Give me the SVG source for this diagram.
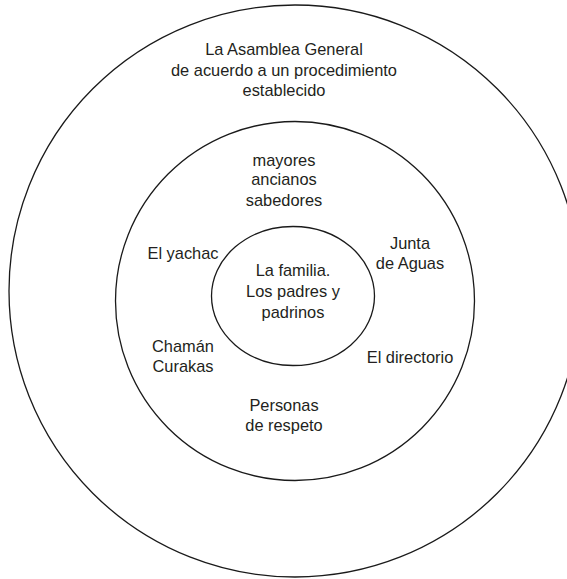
<svg xmlns="http://www.w3.org/2000/svg" width="567" height="579" viewBox="0 0 567 579">
<style>
.ring{fill:none;stroke:#1a1a1a;stroke-width:1.3}
text{font-family:"Liberation Sans",Arial,sans-serif;font-size:16.4px;fill:#231f20;text-anchor:middle}
</style>
<rect width="567" height="579" fill="#fff"/>
<g id="outer">
<ellipse class="ring" cx="295" cy="291" rx="286" ry="286"/>
<text x="284" y="55">La Asamblea General</text>
<text x="284" y="75.5">de acuerdo a un procedimiento</text>
<text x="284" y="96">establecido</text>
</g>
<g id="middle">
<ellipse class="ring" cx="295" cy="301" rx="179.5" ry="179.5"/>
<text x="284" y="165.5">mayores</text>
<text x="284" y="185">ancianos</text>
<text x="284" y="205.5">sabedores</text>
</g>
<g id="yachac"><text x="183" y="258.5">El yachac</text></g>
<g id="junta"><text x="410" y="248.5">Junta</text><text x="410" y="268.5">de Aguas</text></g>
<g id="chaman"><text x="183" y="352">Chamán</text><text x="183" y="372">Curakas</text></g>
<g id="directorio"><text x="410" y="363">El directorio</text></g>
<g id="personas"><text x="284" y="411">Personas</text><text x="284" y="431">de respeto</text></g>
<g id="inner">
<ellipse class="ring" cx="293" cy="296" rx="81.5" ry="69.5"/>
<text x="293" y="276">La familia.</text>
<text x="293" y="297">Los padres y</text>
<text x="293" y="317.5">padrinos</text>
</g>
<g id="connectors"></g>
</svg>
